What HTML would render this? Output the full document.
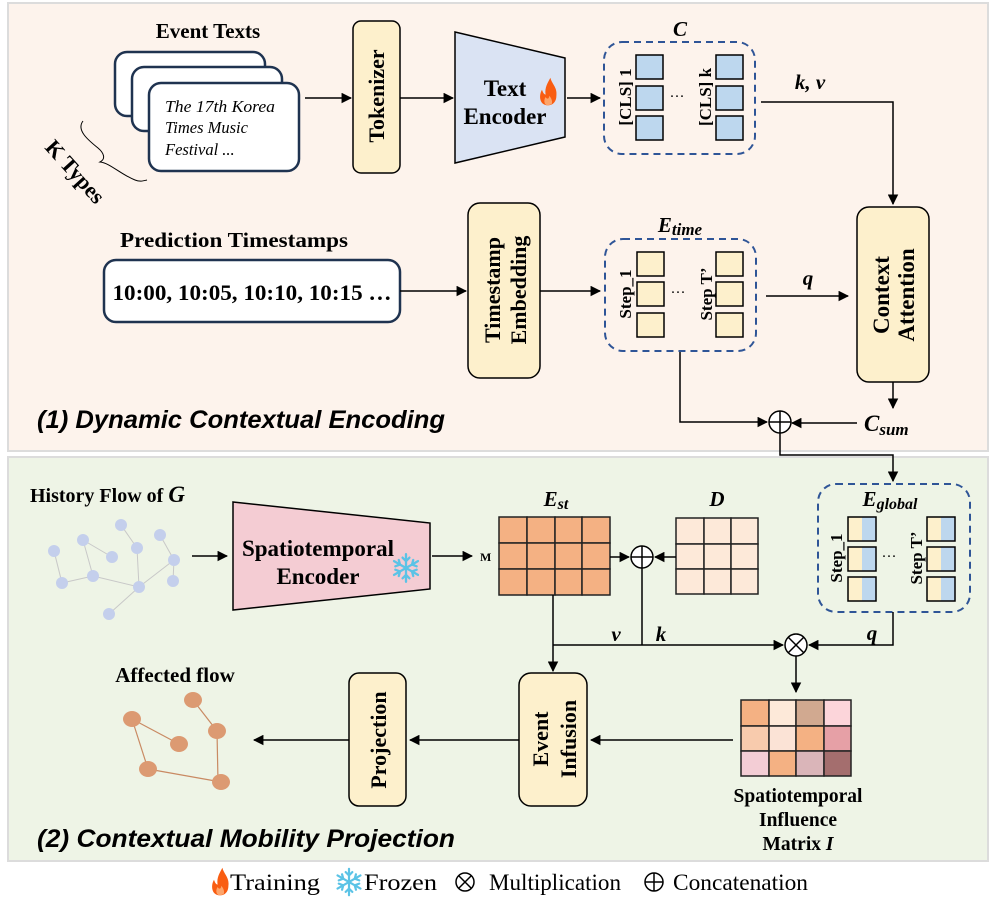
<!DOCTYPE html>
<html><head><meta charset="utf-8"><style>
html,body{margin:0;padding:0;background:#fff}
svg{display:block}
.b{font-family:"Liberation Serif",serif;font-weight:bold;fill:#000}
.s{font-family:"Liberation Sans",sans-serif;font-weight:bold;font-style:italic;fill:#000}
</style></head><body>
<svg width="996" height="898" viewBox="0 0 996 898" xmlns="http://www.w3.org/2000/svg">
<defs>
<marker id="a" viewBox="0 0 10 10" refX="9" refY="5" markerWidth="7" markerHeight="7" orient="auto"><path d="M0,0L10,5L0,10z" fill="#000"/></marker>
<g id="flame"><path d="M0,12 C-7,12 -8,4 -5,-1 C-4,2 -3,3 -2,3 C-3,-3 0,-7 2,-11 C3,-6 8,-3 7,4 C7,9 4,12 0,12z" fill="#f95d12"/><path d="M0,12 C-3,12 -4,8 -2,5 C-1,7 1,7 1,4 C3,6 4,9 3,11z" fill="#fda56b"/></g>
<g id="snow" stroke="#5bc3e6" stroke-width="2" stroke-linecap="round"><line x1="0" y1="-12" x2="0" y2="12"/><line x1="-10.4" y1="-6" x2="10.4" y2="6"/><line x1="-10.4" y1="6" x2="10.4" y2="-6"/><path d="M-3,-9L0,-6L3,-9M-3,9L0,6L3,9M-9.3,-1.5L-5.2,-3L-6.3,-7M9.3,1.5L5.2,3L6.3,7M-9.3,1.5L-5.2,3L-6.3,7M9.3,-1.5L5.2,-3L6.3,-7" fill="none"/></g>
</defs>
<rect x="8" y="3" width="980" height="448" fill="#fdf3ec" stroke="#dcdcdc" stroke-width="2"/>
<rect x="8" y="457" width="980" height="404" fill="#eef4e6" stroke="#dcdcdc" stroke-width="2"/>

<text x="208" y="38" class="b" font-size="21" text-anchor="middle">Event Texts</text>
<rect x="115" y="52" width="150" height="64" rx="12" fill="#fff" stroke="#1f3350" stroke-width="2.5"/>
<rect x="132" y="67" width="150" height="64" rx="12" fill="#fff" stroke="#1f3350" stroke-width="2.5"/>
<rect x="149" y="83" width="150" height="88" rx="12" fill="#fff" stroke="#1f3350" stroke-width="2.5"/>
<g font-family="Liberation Serif,serif" font-style="italic" font-size="16.5"><text x="165" y="112" textLength="110" lengthAdjust="spacingAndGlyphs">The 17th Korea</text><text x="165" y="133">Times Music</text><text x="165" y="155">Festival ...</text></g>
<path d="M83,121 C76,130 88,140 98,148 C104,153 106,159 100,162 C110,163 120,174 135,180 C140,182 143,181 147,180" fill="none" stroke="#000" stroke-width="1"/>
<text x="0" y="0" class="b" font-size="22" transform="translate(44,148) rotate(48)">K Types</text>
<line x1="305" y1="98" x2="351" y2="98" stroke="#000" stroke-width="1.5" marker-end="url(#a)"/>
<rect x="353" y="21" width="47" height="152" rx="8" fill="#fdf0cc" stroke="#000" stroke-width="1.5"/>
<text class="b" font-size="22" text-anchor="middle" transform="translate(384,96) rotate(-90)">Tokenizer</text>
<line x1="400" y1="98" x2="453" y2="98" stroke="#000" stroke-width="1.5" marker-end="url(#a)"/>
<path d="M455,32 L565,58 L565,137 L455,163z" fill="#dae3f3" stroke="#000" stroke-width="1.5"/>
<text x="505" y="96" class="b" font-size="23" text-anchor="middle">Text</text>
<text x="505" y="124" class="b" font-size="23" text-anchor="middle">Encoder</text>
<use href="#flame" transform="translate(548,91) scale(1.2)"/>
<line x1="567" y1="98" x2="600" y2="98" stroke="#000" stroke-width="1.5" marker-end="url(#a)"/>

<text x="680" y="36" class="b" font-size="21" font-style="italic" text-anchor="middle">C</text>
<rect x="604" y="42" width="151" height="112" rx="18" fill="none" stroke="#2f5597" stroke-width="2" stroke-dasharray="7,5"/>
<g fill="#bdd7ee" stroke="#000" stroke-width="1.5">
<rect x="636" y="55" width="27" height="24"/><rect x="636" y="86" width="27" height="24"/><rect x="636" y="116" width="27" height="24"/>
<rect x="716" y="55" width="27" height="24"/><rect x="716" y="86" width="27" height="24"/><rect x="716" y="116" width="27" height="24"/></g>
<text class="b" font-size="17" text-anchor="middle" transform="translate(631,97) rotate(-90)">[CLS] 1</text>
<text class="b" font-size="17" text-anchor="middle" transform="translate(711,97) rotate(-90)">[CLS] k</text>
<text x="677" y="101" font-family="Liberation Serif" font-size="15" text-anchor="middle">···</text>
<polyline points="761,102 893,102 893,204" fill="none" stroke="#000" stroke-width="1.5" marker-end="url(#a)"/>
<text x="810" y="89" class="b" font-size="21" font-style="italic" text-anchor="middle">k, v</text>

<rect x="857" y="207" width="72" height="175" rx="12" fill="#fdf0cc" stroke="#000" stroke-width="1.5"/>
<text class="b" font-size="23" text-anchor="middle" transform="translate(889,295) rotate(-90)">Context</text>
<text class="b" font-size="23" text-anchor="middle" transform="translate(914,295) rotate(-90)">Attention</text>

<text x="234" y="247" class="b" font-size="21" text-anchor="middle" textLength="228" lengthAdjust="spacingAndGlyphs">Prediction Timestamps</text>
<rect x="104" y="260" width="296" height="62" rx="12" fill="#fff" stroke="#1f3350" stroke-width="2.5"/>
<text x="252" y="300" class="b" font-size="22" text-anchor="middle" textLength="279" lengthAdjust="spacingAndGlyphs">10:00, 10:05, 10:10, 10:15 …</text>
<line x1="400" y1="291" x2="466" y2="291" stroke="#000" stroke-width="1.5" marker-end="url(#a)"/>
<rect x="468" y="203" width="72" height="175" rx="12" fill="#fdf0cc" stroke="#000" stroke-width="1.5"/>
<text class="b" font-size="22" text-anchor="middle" transform="translate(500,290) rotate(-90)">Timestamp</text>
<text class="b" font-size="22" text-anchor="middle" transform="translate(526,290) rotate(-90)">Embedding</text>
<line x1="540" y1="291" x2="600" y2="291" stroke="#000" stroke-width="1.5" marker-end="url(#a)"/>

<text x="680" y="232" class="b" font-size="21" font-style="italic" text-anchor="middle">E<tspan font-size="17" dy="3">time</tspan></text>
<rect x="605" y="239" width="151" height="112" rx="18" fill="none" stroke="#2f5597" stroke-width="2" stroke-dasharray="7,5"/>
<g fill="#fdf0cc" stroke="#000" stroke-width="1.5">
<rect x="637" y="252" width="27" height="24"/><rect x="637" y="282" width="27" height="24"/><rect x="637" y="313" width="27" height="24"/>
<rect x="716" y="252" width="27" height="24"/><rect x="716" y="282" width="27" height="24"/><rect x="716" y="313" width="27" height="24"/></g>
<text class="b" font-size="17" text-anchor="middle" transform="translate(631,294) rotate(-90)">Step_1</text>
<text class="b" font-size="17" text-anchor="middle" transform="translate(712,294) rotate(-90)">Step T’</text>
<text x="678" y="297" font-family="Liberation Serif" font-size="15" text-anchor="middle">···</text>
<line x1="766" y1="296" x2="848" y2="296" stroke="#000" stroke-width="1.5" marker-end="url(#a)"/>
<text x="808" y="285" class="b" font-size="21" font-style="italic" text-anchor="middle">q</text>

<polyline points="680,352 680,422 767,422" fill="none" stroke="#000" stroke-width="1.5" marker-end="url(#a)"/>
<line x1="893" y1="382" x2="893" y2="408" stroke="#000" stroke-width="1.5" marker-end="url(#a)"/>
<line x1="857" y1="423" x2="792" y2="423" stroke="#000" stroke-width="1.5" marker-end="url(#a)"/>
<circle cx="780" cy="422" r="11" fill="#fff" stroke="#000" stroke-width="1.5"/>
<path d="M769,422H791M780,411V433" stroke="#000" stroke-width="1.5"/>
<text x="864" y="431" class="b" font-size="23" font-style="italic">C<tspan font-size="17" dy="4">sum</tspan></text>
<text x="37" y="428" class="s" font-size="25" textLength="408" lengthAdjust="spacingAndGlyphs">(1) Dynamic Contextual Encoding</text>
<polyline points="780,433 780,455 893,455 893,481" fill="none" stroke="#000" stroke-width="1.5" marker-end="url(#a)"/>

<text x="30" y="502" class="b" font-size="20">History Flow of <tspan font-style="italic" font-size="23">G</tspan></text>
<g stroke="#c8c8c8" stroke-width="1">
<line x1="54" y1="551" x2="62" y2="583"/><line x1="62" y1="583" x2="93" y2="576"/><line x1="83" y1="540" x2="93" y2="576"/><line x1="83" y1="540" x2="112" y2="557"/><line x1="121" y1="525" x2="137" y2="548"/><line x1="137" y1="548" x2="139" y2="587"/><line x1="93" y1="576" x2="139" y2="587"/><line x1="139" y1="587" x2="174" y2="560"/><line x1="160" y1="535" x2="174" y2="560"/><line x1="174" y1="560" x2="173" y2="581"/><line x1="139" y1="587" x2="109" y2="614"/></g>
<g fill="#c4cfec">
<circle cx="54" cy="551" r="6"/><circle cx="83" cy="540" r="6"/><circle cx="121" cy="525" r="6"/><circle cx="112" cy="557" r="6"/><circle cx="137" cy="548" r="6"/><circle cx="160" cy="535" r="6"/><circle cx="174" cy="560" r="6"/><circle cx="173" cy="581" r="6"/><circle cx="62" cy="583" r="6"/><circle cx="93" cy="576" r="6"/><circle cx="139" cy="587" r="6"/><circle cx="109" cy="614" r="6"/></g>
<line x1="192" y1="556" x2="227" y2="556" stroke="#000" stroke-width="1.5" marker-end="url(#a)"/>
<path d="M233,502 L430,523 L430,589 L233,610z" fill="#f4ccd3" stroke="#000" stroke-width="1.5"/>
<text x="318" y="556" class="b" font-size="23" text-anchor="middle">Spatiotemporal</text>
<text x="318" y="584" class="b" font-size="23" text-anchor="middle">Encoder</text>
<use href="#snow" transform="translate(406,568) scale(1.15)"/>
<line x1="432" y1="556" x2="472" y2="556" stroke="#000" stroke-width="1.5" marker-end="url(#a)"/>
<text x="480" y="561" class="b" font-size="12">M</text>

<text x="556" y="506" class="b" font-size="21" font-style="italic" text-anchor="middle">E<tspan font-size="16" dy="3">st</tspan></text>
<g fill="#f4b183" stroke="#222" stroke-width="1.5">
<rect x="499" y="517" width="28" height="26"/><rect x="527" y="517" width="28" height="26"/><rect x="555" y="517" width="27" height="26"/><rect x="582" y="517" width="28" height="26"/>
<rect x="499" y="543" width="28" height="26"/><rect x="527" y="543" width="28" height="26"/><rect x="555" y="543" width="27" height="26"/><rect x="582" y="543" width="28" height="26"/>
<rect x="499" y="569" width="28" height="26"/><rect x="527" y="569" width="28" height="26"/><rect x="555" y="569" width="27" height="26"/><rect x="582" y="569" width="28" height="26"/></g>
<line x1="610" y1="557" x2="629" y2="557" stroke="#000" stroke-width="1.5" marker-end="url(#a)"/>
<text x="717" y="506" class="b" font-size="21" font-style="italic" text-anchor="middle">D</text>
<g fill="#fde9d9" stroke="#222" stroke-width="1.5">
<rect x="676" y="518" width="28" height="26"/><rect x="704" y="518" width="27" height="26"/><rect x="731" y="518" width="27" height="26"/>
<rect x="676" y="544" width="28" height="25"/><rect x="704" y="544" width="27" height="25"/><rect x="731" y="544" width="27" height="25"/>
<rect x="676" y="569" width="28" height="25"/><rect x="704" y="569" width="27" height="25"/><rect x="731" y="569" width="27" height="25"/></g>
<line x1="676" y1="557" x2="655" y2="557" stroke="#000" stroke-width="1.5" marker-end="url(#a)"/>
<circle cx="642" cy="557" r="11" fill="#fff" stroke="#000" stroke-width="1.5"/>
<path d="M631,557H653M642,546V568" stroke="#000" stroke-width="1.5"/>

<rect x="818" y="484" width="152" height="128" rx="18" fill="none" stroke="#2f5597" stroke-width="2" stroke-dasharray="7,5"/>
<text x="890" y="506" class="b" font-size="21" font-style="italic" text-anchor="middle">E<tspan font-size="16" dy="3">global</tspan></text>
<g stroke="#000" stroke-width="1.5">
<g id="gs"><rect x="848" y="517" width="14" height="24" fill="#fdf0cc" stroke="none"/><rect x="862" y="517" width="14" height="24" fill="#bdd7ee" stroke="none"/><rect x="848" y="517" width="28" height="24" fill="none"/></g>
<use href="#gs" y="30"/><use href="#gs" y="60"/><use href="#gs" x="79"/><use href="#gs" x="79" y="30"/><use href="#gs" x="79" y="60"/></g>
<text class="b" font-size="17" text-anchor="middle" transform="translate(842,558) rotate(-90)">Step_1</text>
<text class="b" font-size="17" text-anchor="middle" transform="translate(922,558) rotate(-90)">Step T’</text>
<text x="889" y="561" font-family="Liberation Serif" font-size="15" text-anchor="middle">···</text>

<line x1="642" y1="568" x2="642" y2="645" stroke="#000" stroke-width="1.5"/>
<line x1="553" y1="645" x2="783" y2="645" stroke="#000" stroke-width="1.5" marker-end="url(#a)"/>
<polyline points="893,612 893,645 809,645" fill="none" stroke="#000" stroke-width="1.5" marker-end="url(#a)"/>
<text x="872" y="640" class="b" font-size="21" font-style="italic" text-anchor="middle">q</text>
<text x="616" y="641" class="b" font-size="21" font-style="italic" text-anchor="middle">v</text>
<text x="661" y="641" class="b" font-size="21" font-style="italic" text-anchor="middle">k</text>
<circle cx="796" cy="645" r="11" fill="#fff" stroke="#000" stroke-width="1.5"/>
<path d="M788,637L804,653M804,637L788,653" stroke="#000" stroke-width="1.5"/>
<line x1="553" y1="595" x2="553" y2="671" stroke="#000" stroke-width="1.5" marker-end="url(#a)"/>
<line x1="796" y1="656" x2="796" y2="692" stroke="#000" stroke-width="1.5" marker-end="url(#a)"/>

<g stroke="#222" stroke-width="1.5">
<rect x="741" y="700" width="28" height="26" fill="#f4b183"/><rect x="769" y="700" width="27" height="26" fill="#fde9d9"/><rect x="796" y="700" width="28" height="26" fill="#d1a990"/><rect x="824" y="700" width="27" height="26" fill="#fcd5da"/>
<rect x="741" y="726" width="28" height="25" fill="#f8cbad"/><rect x="769" y="726" width="27" height="25" fill="#fbe3d6"/><rect x="796" y="726" width="28" height="25" fill="#f4b183"/><rect x="824" y="726" width="27" height="25" fill="#e6a0a6"/>
<rect x="741" y="751" width="28" height="25" fill="#f3cdd5"/><rect x="769" y="751" width="27" height="25" fill="#f4b183"/><rect x="796" y="751" width="28" height="25" fill="#dab5b9"/><rect x="824" y="751" width="27" height="25" fill="#a46e6e"/></g>
<text x="798" y="802" class="b" font-size="19.5" text-anchor="middle">Spatiotemporal</text>
<text x="798" y="826" class="b" font-size="19.5" text-anchor="middle">Influence</text>
<text x="798" y="850" class="b" font-size="19.5" text-anchor="middle">Matrix <tspan font-style="italic">I</tspan></text>
<line x1="733" y1="740" x2="591" y2="740" stroke="#000" stroke-width="1.5" marker-end="url(#a)"/>

<rect x="519" y="673" width="68" height="133" rx="12" fill="#fdf0cc" stroke="#000" stroke-width="1.5"/>
<text class="b" font-size="22" text-anchor="middle" transform="translate(548,739) rotate(-90)">Event</text>
<text class="b" font-size="22" text-anchor="middle" transform="translate(576,739) rotate(-90)">Infusion</text>
<line x1="519" y1="740" x2="410" y2="740" stroke="#000" stroke-width="1.5" marker-end="url(#a)"/>
<rect x="349" y="673" width="57" height="133" rx="10" fill="#fdf0cc" stroke="#000" stroke-width="1.5"/>
<text class="b" font-size="22" text-anchor="middle" transform="translate(386,740) rotate(-90)">Projection</text>
<line x1="349" y1="740" x2="254" y2="740" stroke="#000" stroke-width="1.5" marker-end="url(#a)"/>

<text x="175" y="682" class="b" font-size="21" text-anchor="middle">Affected flow</text>
<g stroke="#c98a63" stroke-width="1.2">
<line x1="132" y1="719" x2="179" y2="744"/><line x1="132" y1="719" x2="148" y2="769"/><line x1="148" y1="769" x2="221" y2="782"/><line x1="193" y1="700" x2="217" y2="731"/><line x1="217" y1="731" x2="218" y2="782"/></g>
<g fill="#dc9a72">
<ellipse cx="132" cy="719" rx="9" ry="8"/><ellipse cx="179" cy="744" rx="9" ry="8"/><ellipse cx="193" cy="700" rx="9" ry="8"/><ellipse cx="217" cy="731" rx="9" ry="8"/><ellipse cx="148" cy="769" rx="9" ry="8"/><ellipse cx="221" cy="782" rx="9" ry="8"/></g>
<text x="37" y="847" class="s" font-size="25" textLength="418" lengthAdjust="spacingAndGlyphs">(2) Contextual Mobility Projection</text>

<use href="#flame" transform="translate(220,881) scale(1.2)"/>
<text x="230" y="890" font-family="Liberation Serif,serif" font-size="23" textLength="90" lengthAdjust="spacingAndGlyphs">Training</text>
<use href="#snow" transform="translate(349,882) scale(1.1)"/>
<text x="364" y="890" font-family="Liberation Serif,serif" font-size="23" textLength="73" lengthAdjust="spacingAndGlyphs">Frozen</text>
<circle cx="465" cy="882" r="9" fill="none" stroke="#000" stroke-width="1.5"/>
<path d="M458.5,875.5L471.5,888.5M471.5,875.5L458.5,888.5" stroke="#000" stroke-width="1.5"/>
<text x="489" y="890" font-family="Liberation Serif,serif" font-size="23" textLength="132" lengthAdjust="spacingAndGlyphs">Multiplication</text>
<circle cx="654" cy="882" r="9" fill="none" stroke="#000" stroke-width="1.5"/>
<path d="M645,882H663M654,873V891" stroke="#000" stroke-width="1.5"/>
<text x="673" y="890" font-family="Liberation Serif,serif" font-size="23" textLength="135" lengthAdjust="spacingAndGlyphs">Concatenation</text>
</svg>
</body></html>
